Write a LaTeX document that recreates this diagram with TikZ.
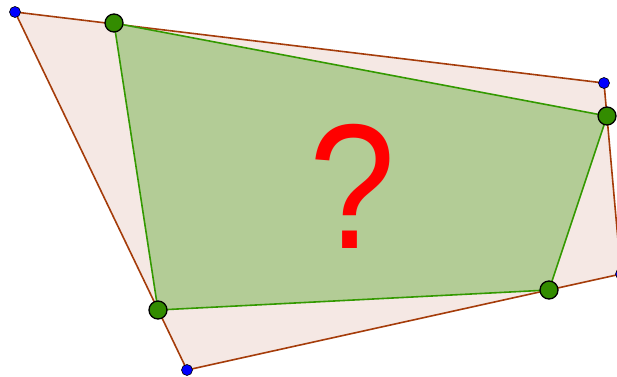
\documentclass[tikz,border=0pt]{standalone}
\usepackage{fontspec}
\setmainfont{Liberation Sans}
\definecolor{outerfill}{RGB}{245,232,228}
\definecolor{outeredge}{RGB}{165,60,10}
\definecolor{innerfill}{RGB}{179,204,150}
\definecolor{inneredge}{RGB}{51,153,0}
\definecolor{gdot}{RGB}{51,140,0}
\tikzset{
  bluept/.style={circle,fill=blue,draw=black,line width=0.6pt,inner sep=0pt,minimum size=11pt},
  greenpt/.style={circle,fill=gdot,draw=black,line width=1.3pt,inner sep=0pt,minimum size=18pt},
}
\begin{document}
\begin{tikzpicture}[x=1pt,y=1pt]
\useasboundingbox (0,0) rectangle (617,376);
\clip (0,0) rectangle (617,376);
\coordinate (A) at (15,364);
\coordinate (B) at (604,293);
\coordinate (C) at (621,102);
\coordinate (D) at (187,6);
\coordinate (P) at (114,353);
\coordinate (Q) at (607,260);
\coordinate (R) at (549,86);
\coordinate (S) at (158,66);
\filldraw[fill=outerfill,draw=outeredge,line width=1.6pt,line join=round] (A) -- (B) -- (C) -- (D) -- cycle;
\filldraw[fill=innerfill,draw=inneredge,line width=1.6pt,line join=round] (P) -- (Q) -- (R) -- (S) -- cycle;
\node[text=red,font=\fontsize{178}{178}\selectfont,inner sep=0pt,anchor=base,xscale=0.87] (qm) at (353,128) {?};
\node[bluept] (a) at (A) {};
\node[bluept] (b) at (B) {};
\node[bluept] (c) at (C) {};
\node[bluept] (d) at (D) {};
\node[greenpt] (p) at (P) {};
\node[greenpt] (q) at (Q) {};
\node[greenpt] (r) at (R) {};
\node[greenpt] (s) at (S) {};
\end{tikzpicture}
\end{document}
